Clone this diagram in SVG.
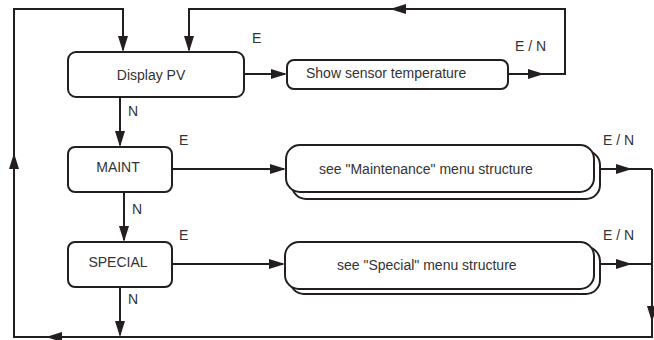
<svg xmlns="http://www.w3.org/2000/svg" xmlns:xlink="http://www.w3.org/1999/xlink" width="654" height="340" viewBox="0 0 654 340">
<style>
.box{fill:#fff;stroke:#231f20;stroke-width:2}
.ln{fill:none;stroke:#231f20;stroke-width:2}
.ah{fill:#231f20}
text{font-family:"Liberation Sans",Arial,sans-serif;font-size:14px;fill:#333}
.c{text-anchor:middle}
</style>
<defs>
<path id="ah" d="M0,0 L-16,-5 L-16,5 Z"/>
</defs>
<rect width="654" height="340" fill="#fff"/>
<g id="connectors">
<path class="ln" d="M652,169 V337 H14 V9 H123 V50"/>
<path class="ln" d="M508,74 H565 V9 H189 V50"/>
<path class="ln" d="M244,74 H285"/>
<path class="ln" d="M120,97 V145"/>
<path class="ln" d="M124,192 V240"/>
<path class="ln" d="M120,287 V335"/>
<path class="ln" d="M172,169 H284"/>
<path class="ln" d="M594,169 H652"/>
<path class="ln" d="M172,264 H283"/>
<path class="ln" d="M594,264 H652"/>
<g class="ah">
<use xlink:href="#ah" transform="translate(652,322) rotate(90)"/>
<use xlink:href="#ah" transform="translate(46,337) rotate(180)"/>
<use xlink:href="#ah" transform="translate(14,153) rotate(-90)"/>
<use xlink:href="#ah" transform="translate(123,52) rotate(90)"/>
<use xlink:href="#ah" transform="translate(544,74)"/>
<use xlink:href="#ah" transform="translate(390,9) rotate(180)"/>
<use xlink:href="#ah" transform="translate(189,52) rotate(90)"/>
<use xlink:href="#ah" transform="translate(287,74)"/>
<use xlink:href="#ah" transform="translate(120,147) rotate(90)"/>
<use xlink:href="#ah" transform="translate(124,242) rotate(90)"/>
<use xlink:href="#ah" transform="translate(120,337) rotate(90)"/>
<use xlink:href="#ah" transform="translate(286,169)"/>
<use xlink:href="#ah" transform="translate(632,169)"/>
<use xlink:href="#ah" transform="translate(285,264)"/>
<use xlink:href="#ah" transform="translate(632,264)"/>
</g>
<text x="252" y="43">E</text>
<text x="128" y="116">N</text>
<text x="179" y="145">E</text>
<text x="132" y="214">N</text>
<text x="179" y="240">E</text>
<text x="128" y="304">N</text>
<text x="515" y="51">E / N</text>
<text x="603" y="145">E / N</text>
<text x="603" y="240">E / N</text>
</g>
<g id="display-pv">
<rect class="box" x="68" y="52" width="176" height="45" rx="8"/>
<text class="c" x="151" y="80">Display PV</text>
</g>
<g id="show-sensor">
<rect class="box" x="287" y="60" width="221" height="29" rx="7"/>
<text x="306" y="78">Show sensor temperature</text>
</g>
<g id="maint">
<rect class="box" x="68" y="147" width="104" height="45" rx="7"/>
<text class="c" x="118" y="172">MAINT</text>
</g>
<g id="maintenance-menu">
<rect class="box" x="292" y="151" width="308" height="48" rx="14"/>
<rect class="box" x="286" y="145" width="308" height="47" rx="14"/>
<text x="319" y="174">see "Maintenance" menu structure</text>
</g>
<g id="special">
<rect class="box" x="68" y="242" width="104" height="45" rx="7"/>
<text class="c" x="118" y="267">SPECIAL</text>
</g>
<g id="special-menu">
<rect class="box" x="290" y="247" width="310" height="47" rx="14"/>
<rect class="box" x="285" y="242" width="309" height="47" rx="14"/>
<text x="337" y="270">see "Special" menu structure</text>
</g>
</svg>
